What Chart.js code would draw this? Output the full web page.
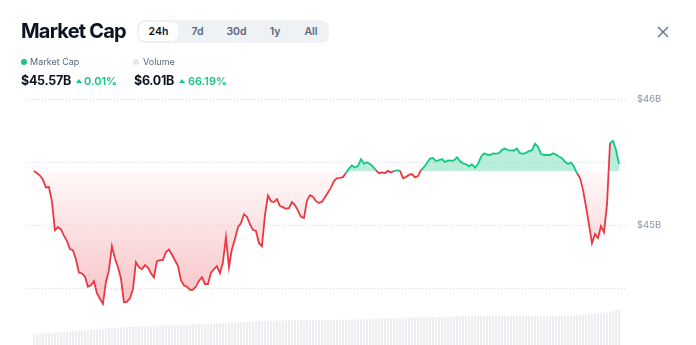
<!DOCTYPE html>
<html>
<head>
<meta charset="utf-8">
<script src="https://cdn.jsdelivr.net/npm/chart.js@4.4.1/dist/chart.umd.min.js"></script>
<style>
  html, body { margin: 0; padding: 0; background: #fff; }
  body { width: 696px; height: 345px; position: relative; overflow: hidden; font-family: Inter, "Noto Sans", sans-serif; color: #0d1421; }
  #chart { position: absolute; left: 0; top: 0; }
  .abs { position: absolute; white-space: nowrap; }
  .title { left: 21px; top: 21px; font-size: 20px; line-height: 21px; font-weight: 700; letter-spacing: -0.8px; }
  .tabs { left: 137px; top: 20px; width: 192px; height: 23px; background: #eff2f5; border-radius: 8px; display: flex; padding-left: 2px; box-sizing: border-box; align-items: center; }
  .tab { height: 19px; line-height: 19px; text-align: center; font-size: 10.5px; font-weight: 600; color: #58667e; border-radius: 6px; }
  .tab.on { background: #fff; color: #0d1421; box-shadow: 0 0 1px rgba(0,0,0,0.05); }
  .lbl { font-size: 9px; line-height: 12px; color: #58667e; }
  .dot { width: 6px; height: 6px; border-radius: 50%; }
  .val { font-size: 12.5px; line-height: 16px; font-weight: 700; letter-spacing: -0.3px; }
  .pct { font-size: 11px; line-height: 16px; font-weight: 600; color: #16c784; }
  .tri { width: 0; height: 0; border-left: 3px solid transparent; border-right: 3px solid transparent; border-bottom: 4px solid #16c784; }
</style>
</head>
<body>
<canvas id="chart" width="696" height="345"></canvas>

<div class="abs title">Market Cap</div>
<div class="abs tabs">
  <div class="tab on" style="width:39px">24h</div>
  <div class="tab" style="width:39px">7d</div>
  <div class="tab" style="width:39px">30d</div>
  <div class="tab" style="width:38px">1y</div>
  <div class="tab" style="width:34px">All</div>
</div>
<svg class="abs" style="left:657px;top:26px" width="12" height="12" viewBox="0 0 12 12">
  <path d="M1 1 L11 11 M11 1 L1 11" stroke="#616e85" stroke-width="1.4" fill="none"/>
</svg>

<div class="abs dot" style="left:21px;top:59px;background:#16c784"></div>
<div class="abs lbl" style="left:30px;top:56px">Market Cap</div>
<div class="abs dot" style="left:133px;top:59px;background:#e3e6eb"></div>
<div class="abs lbl" style="left:143px;top:56px">Volume</div>

<div class="abs val" style="left:21px;top:73px">$45.57B</div>
<div class="abs tri" style="left:76px;top:79px"></div>
<div class="abs pct" style="left:84px;top:73px">0.01%</div>
<div class="abs val" style="left:134px;top:73px">$6.01B</div>
<div class="abs tri" style="left:179px;top:79px"></div>
<div class="abs pct" style="left:188px;top:73px">66.19%</div>

<script>
// market cap over the last 24h, in $B (one reading every ~7 minutes)
const caps = [
  45.429, 45.413, 45.393, 45.361, 45.299, 45.302, 45.190, 44.960, 44.984, 44.968,
  44.917, 44.875, 44.810, 44.802, 44.730, 44.625, 44.617, 44.593, 44.512, 44.524,
  44.556, 44.460, 44.417, 44.377, 44.548, 44.643, 44.833, 44.738, 44.667, 44.579,
  44.389, 44.392, 44.421, 44.492, 44.706, 44.667, 44.651, 44.683, 44.663, 44.619,
  44.587, 44.714, 44.722, 44.722, 44.786, 44.806, 44.767, 44.722, 44.678, 44.563,
  44.524, 44.512, 44.488, 44.487, 44.513, 44.558, 44.587, 44.532, 44.532, 44.622,
  44.652, 44.675, 44.619, 44.706, 44.905, 44.667, 44.810, 44.890, 44.983, 45.017,
  45.087, 45.067, 45.008, 44.963, 44.954, 44.857, 44.833, 45.079, 45.234, 45.190,
  45.183, 45.206, 45.151, 45.143, 45.130, 45.135, 45.183, 45.159, 45.115, 45.066,
  45.056, 45.194, 45.238, 45.225, 45.190, 45.175, 45.186, 45.222, 45.259, 45.297,
  45.349, 45.373, 45.375, 45.381, 45.413, 45.448, 45.473, 45.457, 45.468, 45.524,
  45.487, 45.498, 45.484, 45.463, 45.435, 45.412, 45.418, 45.413, 45.430, 45.417,
  45.429, 45.434, 45.432, 45.373, 45.381, 45.398, 45.405, 45.379, 45.389, 45.437,
  45.460, 45.492, 45.528, 45.532, 45.508, 45.516, 45.524, 45.500, 45.514, 45.512,
  45.514, 45.537, 45.508, 45.490, 45.483, 45.468, 45.481, 45.456, 45.484, 45.540,
  45.570, 45.560, 45.556, 45.569, 45.567, 45.571, 45.597, 45.607, 45.595, 45.593,
  45.592, 45.608, 45.571, 45.565, 45.573, 45.587, 45.594, 45.646, 45.623, 45.563,
  45.556, 45.556, 45.556, 45.569, 45.559, 45.544, 45.530, 45.502, 45.485, 45.497,
  45.464, 45.411, 45.373, 45.282, 45.147, 45.002, 44.857, 44.930, 44.898, 44.992,
  44.944, 45.163, 45.651, 45.667, 45.595, 45.484
];

// 24h volume at each reading, in $B
const volumes = [
  1.85, 1.88, 1.90, 1.93, 1.96, 1.99, 2.02, 2.06, 2.10, 2.14, 2.18,
  2.23, 2.26, 2.30, 2.34, 2.38, 2.42, 2.46, 2.50, 2.55, 2.59, 2.63, 2.68, 2.72, 2.77, 2.82,
  2.86, 2.88, 2.92, 2.95, 2.98, 3.01, 3.04, 3.07,
  3.08, 3.10, 3.12, 3.14, 3.16, 3.18, 3.20, 3.22, 3.24, 3.26, 3.28, 3.30, 3.32, 3.34, 3.36, 3.38,
  3.40, 3.42, 3.44, 3.46, 3.48, 3.50, 3.52, 3.54, 3.56, 3.58, 3.60, 3.62, 3.64, 3.66, 3.68, 3.71, 3.74,
  3.76, 3.79, 3.82, 3.85, 3.88, 3.91, 3.94, 3.97, 4.00, 4.04, 4.07,
  4.08, 4.09, 4.09, 4.10, 4.11, 4.12, 4.12, 4.13, 4.14, 4.15, 4.15, 4.16, 4.17, 4.18, 4.18, 4.19,
  4.20, 4.21, 4.21, 4.22, 4.23, 4.24, 4.24, 4.25, 4.26, 4.26, 4.27, 4.27,
  4.28, 4.30, 4.32, 4.33, 4.35, 4.37, 4.38, 4.40, 4.42, 4.43, 4.45, 4.47, 4.48, 4.50, 4.52, 4.53,
  4.55, 4.57, 4.58,
  4.60, 4.61, 4.62, 4.64, 4.65, 4.66, 4.68, 4.69, 4.70, 4.72, 4.73, 4.74, 4.76, 4.77, 4.78, 4.80,
  4.81, 4.82, 4.84, 4.85, 4.86, 4.88, 4.89, 4.90, 4.91, 4.92,
  4.92, 4.93, 4.92, 4.92, 4.91, 4.92, 4.91, 4.90, 4.90, 4.91, 4.90, 4.89, 4.89, 4.90, 4.89, 4.88,
  4.88, 4.89, 4.88, 4.87, 4.88, 4.87,
  4.88, 4.90, 4.91, 4.92, 4.94, 4.95, 4.97, 4.98, 5.00, 5.02, 5.04,
  5.10, 5.15, 5.21, 5.27, 5.33,
  5.40, 5.46, 5.52, 5.59,
  5.70, 5.85, 6.01
];

const GREEN = '#16c784';
const RED = '#ea3943';
const baseline = caps[0];

// red area fades in towards the lowest point
const redFade = {
  id: 'redFade',
  afterLayout(chart) {
    const y = chart.scales.y;
    const g = chart.ctx.createLinearGradient(0, y.getPixelForValue(baseline), 0, y.getPixelForValue(Math.min(...caps)));
    g.addColorStop(0, 'rgba(234, 57, 67, 0.03)');
    g.addColorStop(1, 'rgba(234, 57, 67, 0.30)');
    chart.data.datasets[0].fill.below = g;
  }
};

new Chart(document.getElementById('chart'), {
  data: {
    datasets: [
      {
        type: 'line',
        data: caps.map((v, i) => ({ x: i, y: v })),
        yAxisID: 'y',
        order: 0,
        borderWidth: 1.8,
        pointRadius: 0,
        tension: 0,
        borderColor: RED,
        segment: {
          borderColor: c => ((c.p0.parsed.y + c.p1.parsed.y) / 2 >= baseline ? GREEN : RED)
        },
        fill: { target: { value: baseline }, above: 'rgba(22, 199, 132, 0.3)', below: 'rgba(234, 57, 67, 0.1)' }
      },
      {
        type: 'bar',
        data: volumes.map((v, i) => ({ x: i, y: v })),
        yAxisID: 'vol',
        order: 1,
        backgroundColor: '#eceef1',
        barPercentage: 0.7,
        categoryPercentage: 1
      }
    ]
  },
  options: {
    responsive: false,
    animation: false,
    layout: { padding: { left: 27, top: 99, right: 0, bottom: 0 } },
    plugins: { legend: { display: false }, tooltip: { enabled: false } },
    scales: {
      x: { type: 'linear', min: -2.3, max: 197, offset: false, display: false },
      y: {
        position: 'right',
        min: 44.05,
        max: 46,
        ticks: {
          stepSize: 0.5,
          includeBounds: false,
          padding: 12,
          color: '#8a93a6',
          font: { family: 'Inter', size: 9.5 },
          callback: v => (Number.isInteger(v) ? '$' + v + 'B' : '')
        },
        grid: { color: '#dadde3', drawTicks: false },
        border: { display: false, dash: [1, 2] },
        afterFit: s => { s.width = 71; s.paddingTop = 0; s.paddingBottom = 0; }
      },
      vol: { display: false, min: 0, max: 41.4 }
    }
  },
  plugins: [redFade]
});
</script>
</body>
</html>
